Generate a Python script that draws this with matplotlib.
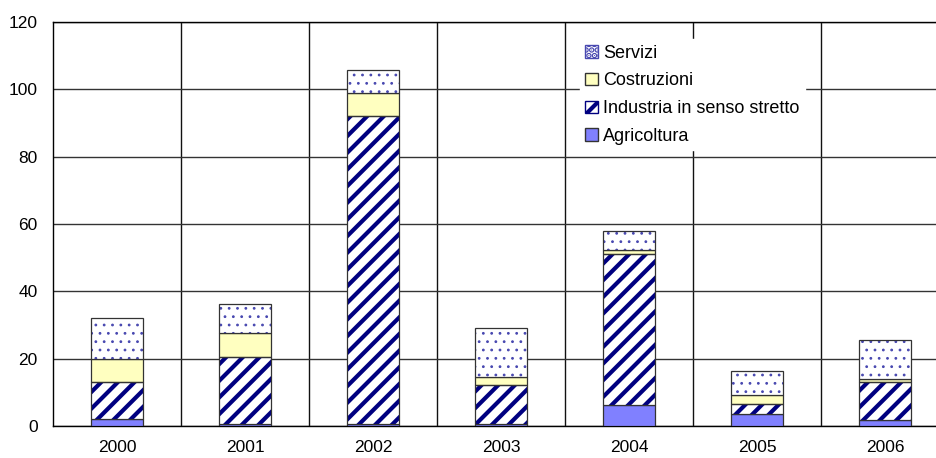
import numpy as np
import matplotlib.pyplot as plt
from matplotlib.patches import Patch

plt.rcParams['font.family'] = ['Liberation Sans', 'DejaVu Sans']

years = ["2000", "2001", "2002", "2003", "2004", "2005", "2006"]
agricoltura = [2.0, 0.5, 0.5, 0.5, 6.2, 3.6, 1.7]
industria = [11.0, 19.9, 91.5, 11.7, 44.8, 2.8, 11.3]
costruzioni = [7.0, 7.1, 7.0, 2.4, 1.3, 2.8, 0.9]
servizi = [12.0, 8.8, 6.6, 14.5, 5.6, 7.1, 11.6]

fig = plt.figure(figsize=(9.36, 4.58), dpi=100)
ax = fig.add_axes([53 / 936, 32 / 458, 896 / 936, 404 / 458])

x = np.arange(len(years))
w = 0.4
edge = "#333333"
navy = "#000080"
dotc = "#4848B0"

b0 = np.zeros(len(years))
ax.bar(x, agricoltura, w, bottom=b0, color="#8080FF", edgecolor=edge, lw=0.9, zorder=3)
b1 = b0 + np.array(agricoltura)
plt.rcParams['hatch.linewidth'] = 3.0
ax.bar(x, industria, w, bottom=b1, color="white", edgecolor=navy, hatch="//", lw=0, zorder=3)
ax.bar(x, industria, w, bottom=b1, fill=False, edgecolor=edge, lw=0.9, zorder=4)
b2 = b1 + np.array(industria)
ax.bar(x, costruzioni, w, bottom=b2, color="#FFFFC0", edgecolor=edge, lw=0.9, zorder=3)
b3 = b2 + np.array(costruzioni)
plt.rcParams['hatch.linewidth'] = 0.8
ax.bar(x, servizi, w, bottom=b3, color="white", edgecolor=dotc, hatch="..", lw=0, zorder=3)
ax.bar(x, servizi, w, bottom=b3, fill=False, edgecolor=edge, lw=0.9, zorder=4)

ax.set_xlim(-0.5, len(years) - 0.5)
ax.set_ylim(0, 120)
ax.set_yticks(range(0, 121, 20))
ax.set_xticks(x)
ax.set_xticklabels(years)
ax.set_xticks(np.arange(0.5, len(years) - 0.5, 1), minor=True)
ax.tick_params(which="both", length=0, labelsize=12.5)
ax.tick_params(axis="x", pad=10)
ax.tick_params(axis="y", pad=11)
ax.grid(axis="y", which="major", color="#333333", lw=1, zorder=0)
ax.grid(axis="x", which="minor", color="#111111", lw=1, zorder=0)
for s in ax.spines.values():
    s.set_color("black")
    s.set_linewidth(1)

plt.rcParams['hatch.linewidth'] = 0.8
h_serv = Patch(facecolor="white", edgecolor=dotc, hatch="...", label="Servizi")
h_cost = Patch(facecolor="#FFFFC0", edgecolor=edge, label="Costruzioni")
plt.rcParams['hatch.linewidth'] = 3.0
h_ind = Patch(facecolor="white", edgecolor=navy, hatch="//", label="Industria in senso stretto")
h_agr = Patch(facecolor="#8080FF", edgecolor=edge, label="Agricoltura")
leg = ax.legend(handles=[h_serv, h_cost, h_ind, h_agr], loc="upper left",
                bbox_to_anchor=(0.578, 0.98),
                fontsize=13, frameon=True, fancybox=False, edgecolor="white",
                framealpha=1, handlelength=0.7, handleheight=0.7, handletextpad=0.3,
                labelspacing=0.6, borderpad=0.3)
leg.set_zorder(5)

fig.savefig("out.png", dpi=100)
